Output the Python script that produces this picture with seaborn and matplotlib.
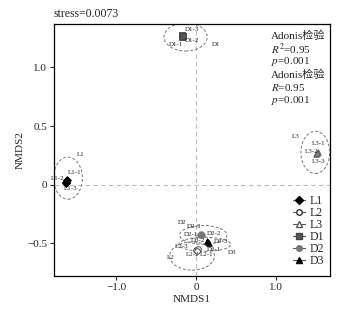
import seaborn as sns
import matplotlib.pyplot as plt
import pandas as pd
from matplotlib.lines import Line2D
from matplotlib.patches import Ellipse
from matplotlib.ticker import FixedLocator, FixedFormatter

sns.set_style("white")
plt.rcParams['font.family'] = ['Liberation Serif', 'Noto Sans CJK SC']
plt.rcParams['mathtext.fontset'] = 'stix'

groups = ["L1", "L2", "L3", "D1", "D2", "D3"]
nmds1 = [-1.62, -1.61, -1.62, 0.00, 0.02, 0.01, 1.50, 1.52, 1.51,
         -0.18, -0.17, -0.16, 0.05, 0.06, 0.07, 0.14, 0.15, 0.16]
nmds2 = [0.02, 0.04, 0.01, -0.56, -0.55, -0.57, 0.26, 0.28, 0.27,
         1.26, 1.28, 1.27, -0.43, -0.42, -0.43, -0.48, -0.49, -0.50]
group_col = [g for g in groups for _ in range(3)]

# ellipse centre x, centre y, width, height
ell_x = [-1.60, -0.05, 1.49, -0.13, 0.09, 0.11]
ell_y = [0.055, -0.61, 0.275, 1.26, -0.43, -0.51]
ell_w = [0.36, 0.56, 0.36, 0.54, 0.59, 0.65]
ell_h = [0.36, 0.24, 0.36, 0.24, 0.16, 0.12]

# sample labels: text, x, y
lab_text = ["L1", "L1-1", "L1-2", "L1-3",
            "L2", "L2-1", "L2-2", "L2-3",
            "L3", "L3-1", "L3-2", "L3-3",
            "D1", "D1-1", "D1-2", "D1-3",
            "D2", "D2-1", "D2-2", "D2-3",
            "D3", "D3-1", "D3-2", "D3-3"]
lab_x = [-1.49, -1.60, -1.81, -1.65,
         -0.36, 0.05, -0.13, -0.26,
         1.20, 1.45, 1.36, 1.45,
         0.20, -0.34, -0.14, -0.14,
         -0.23, -0.15, 0.14, -0.11,
         0.40, 0.14, -0.06, 0.22]
lab_y = [0.26, 0.10, 0.05, -0.03,
         -0.62, -0.60, -0.60, -0.53,
         0.41, 0.35, 0.28, 0.20,
         1.20, 1.20, 1.23, 1.32,
         -0.32, -0.425, -0.42, -0.36,
         -0.58, -0.555, -0.475, -0.49]

colors = {"L1": "black", "L2": "white", "L3": "#888888",
          "D1": "#555555", "D2": "#777777", "D3": "black"}
edges = {"L1": "black", "L2": "#333333", "L3": "#555555",
         "D1": "#444444", "D2": "#777777", "D3": "black"}
leg_colors = {"L1": "black", "L2": "white", "L3": "white",
              "D1": "#555555", "D2": "#777777", "D3": "black"}
markers = {"L1": "D", "L2": "o", "L3": "^", "D1": "s", "D2": "o", "D3": "^"}

df = pd.DataFrame({"NMDS1": nmds1, "NMDS2": nmds2, "group": group_col})

fig = plt.figure(figsize=(3.54, 3.09), dpi=100)
ax = fig.add_axes([0.1525, 0.107, 0.78, 0.815])

ax.axhline(0, color="#bbbbbb", lw=0.8, ls=(0, (4, 3)), zorder=0)
ax.axvline(0, color="#bbbbbb", lw=0.8, ls=(0, (4, 3)), zorder=0)

for i in range(len(groups)):
    ax.add_patch(Ellipse((ell_x[i], ell_y[i]), ell_w[i], ell_h[i], fill=False,
                         ec="#777777", lw=0.7, ls=(0, (3, 2))))

for g in groups:
    sub = df[df.group == g]
    sns.scatterplot(data=sub, x="NMDS1", y="NMDS2", ax=ax, marker=markers[g],
                    color=colors[g], edgecolor=edges[g], s=16, linewidth=0.6,
                    legend=False, zorder=3)

for t, x, y in zip(lab_text, lab_x, lab_y):
    ax.text(x, y, t, fontsize=5, ha="left", va="center", color="#222222")

ax.set_xlim(-1.775, 1.675)
ax.set_ylim(-0.78, 1.37)
ax.xaxis.set_major_locator(FixedLocator([-1, 0, 1]))
ax.xaxis.set_major_formatter(FixedFormatter(["\u22121.0", "0", "1.0"]))
ax.yaxis.set_major_locator(FixedLocator([-0.5, 0, 0.5, 1.0]))
ax.yaxis.set_major_formatter(FixedFormatter(["\u22120.5", "0", "0.5", "1.0"]))
ax.tick_params(direction="out", length=3, width=0.8, labelsize=8, pad=2,
               bottom=True, left=True)
for sp in ax.spines.values():
    sp.set_color("black")
    sp.set_linewidth(0.9)
ax.set_xlabel("NMDS1", fontsize=8, labelpad=2)
ax.set_ylabel("NMDS2", fontsize=8, labelpad=2)
ax.text(0, 1.015, "stress=0.0073", transform=ax.transAxes, fontsize=8.5,
        ha="left", va="bottom")

ann = ["Adonis检验", "$R^2$=0.95", "$p$=0.001", "Adonis检验", "$R$=0.95", "$p$=0.001"]
for k, t in enumerate(ann):
    ax.text(0.786, 0.952 - k * 0.051, t, transform=ax.transAxes, fontsize=8,
            ha="left", va="center")

handles = [Line2D([0], [0], color="#555555", lw=0.8, marker=markers[g],
                  markerfacecolor=leg_colors[g], markeredgecolor=edges[g],
                  markersize=4) for g in groups]
ax.legend(handles, groups, loc="upper left", bbox_to_anchor=(0.866, 0.32),
          frameon=False, fontsize=8.5, handlelength=1.0, handletextpad=0.4,
          labelspacing=0.0, borderaxespad=0, borderpad=0)

fig.savefig("out.png", dpi=100)
